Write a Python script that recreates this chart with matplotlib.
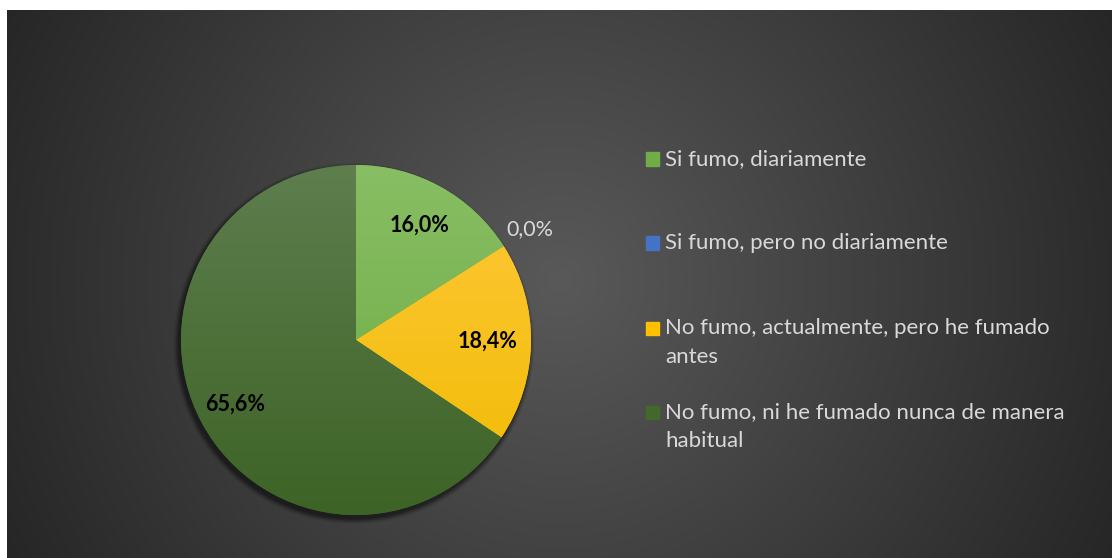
import numpy as np
import matplotlib.pyplot as plt
from matplotlib.patches import Rectangle, Circle
from matplotlib.colors import LinearSegmentedColormap

# --- data ---
categories = ['Si fumo, diariamente',
              'Si fumo, pero no diariamente',
              'No fumo, actualmente, pero he fumado\nantes',
              'No fumo, ni he fumado nunca de manera\nhabitual']
values = [16.0, 0.0, 18.4, 65.6]
colors = ['#70AD47', '#4472C4', '#FFC000', '#43682B']
# top / bottom shades for the soft vertical gradient on each slice
grad_top = ['#88BE64', '#5A86D0', '#FFC83C', '#5E7E4E']
grad_bot = ['#6AAA40', '#3E6ABA', '#F0BB00', '#3D6326']

W, H = 1120, 558
fig = plt.figure(figsize=(W / 100, H / 100), dpi=100)
fig.patch.set_facecolor('white')

# --- dark radial background ---
bg = fig.add_axes([7 / W, 0, 1105 / W, 548 / H])
bg.set_axis_off()
yy, xx = np.mgrid[0:548, 0:1105]
d = np.hypot(xx - 553, yy - 270) / 620.0
d = np.clip(d, 0, 1)
shade = (89 - 51 * d) / 255.0
bg.imshow(np.dstack([shade, shade, shade]), aspect='auto', interpolation='bilinear')

# --- pie ---
cx, cy, r = 356, H - 340, 175
ax = fig.add_axes([(cx - r) / W, (cy - r) / H, 2 * r / W, 2 * r / H])
ax.set_axis_off()

# soft shadow under the pie
for k, a in zip(range(8, 0, -1), np.linspace(0.03, 0.12, 8)):
    ax.add_patch(Circle((-0.012, -0.02), 1 + k * 0.004, color='black', alpha=a,
                        lw=0, zorder=0, clip_on=False))

wedges, _ = ax.pie(values, colors=colors, startangle=90, counterclock=False,
                   radius=1, wedgeprops=dict(linewidth=0))
for w in wedges:
    w.set_zorder(1)

# vertical gradient clipped to each wedge
for w, t, b in zip(wedges, grad_top, grad_bot):
    cm = LinearSegmentedColormap.from_list('g', [b, t])
    im = ax.imshow(np.linspace(0, 1, 256).reshape(-1, 1), cmap=cm, origin='lower',
                   extent=[-1, 1, -1, 1], aspect='auto', zorder=2)
    im.set_clip_path(w)

ax.set_xlim(-1, 1)
ax.set_ylim(-1, 1)

# --- data labels ---
cum = np.cumsum([0] + values[:-1])
for v, c0 in zip(values, cum):
    mid = np.deg2rad(90 - (c0 + v / 2) * 3.6)
    txt = f'{v:.1f}'.replace('.', ',') + '%'
    if v > 0:
        dist = 0.78 if v > 50 else 0.75
        ax.text(dist * np.cos(mid), dist * np.sin(mid), txt, ha='center', va='center',
                fontsize=15.5, fontweight='bold', color='black', family='Lato', zorder=5)
    else:
        ax.text(1.18 * np.cos(mid), 1.18 * np.sin(mid), txt, ha='center', va='center',
                fontsize=15.5, color='#D9D9D9', family='Lato', zorder=5,
                clip_on=False)

# --- legend ---
row_y = [159, 243, 328, 412]
for lab, col, y in zip(categories, colors, row_y):
    fig.patches.append(Rectangle((646 / W, (H - y - 6.5) / H), 13 / W, 13 / H,
                                 transform=fig.transFigure, color=col, figure=fig))
    fig.text(665 / W, (H - y + 10) / H, lab, ha='left', va='top', fontsize=16,
             color='#D9D9D9', family='Lato', linespacing=1.55,
             transform=fig.transFigure)

fig.savefig('out.png', dpi=100, facecolor=fig.get_facecolor())
